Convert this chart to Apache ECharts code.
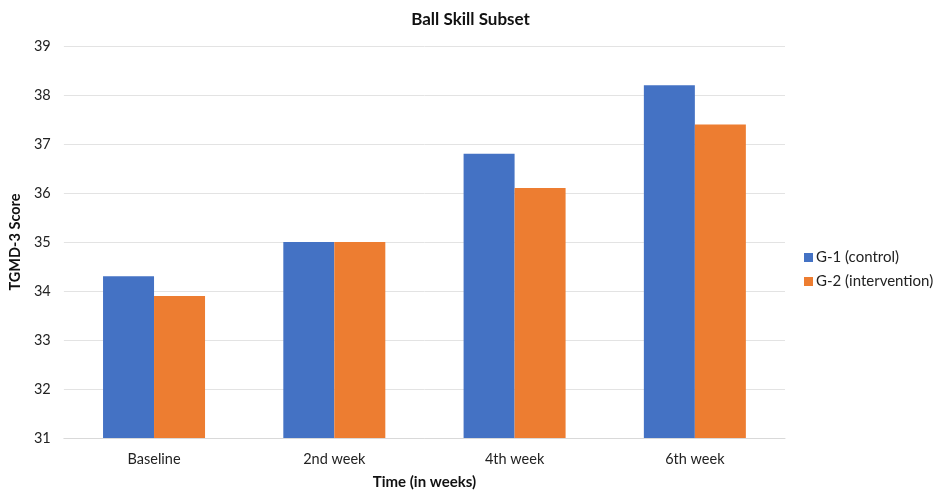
<!DOCTYPE html>
<html>
<head>
<meta charset="utf-8">
<script src="https://cdn.jsdelivr.net/npm/echarts@6/dist/echarts.min.js"></script>
<style>
  html, body { margin: 0; padding: 0; background: #fff; }
  #chart { width: 941px; height: 495px; }
</style>
</head>
<body>
<div id="chart"></div>
<script>
// Ball skill scores over the intervention period
const categories = ['Baseline', '2nd week', '4th week', '6th week'];
const controlScores = [34.3, 35.0, 36.8, 38.2];
const interventionScores = [33.9, 35.0, 36.1, 37.4];
const seriesNames = ['G-1 (control)', 'G-2 (intervention)'];

const font = 'Lato, "Open Sans", sans-serif';
const chart = echarts.init(document.getElementById('chart'));

chart.setOption({
  animation: false,
  backgroundColor: '#ffffff',
  title: {
    text: 'Ball Skill Subset',
    left: 'center',
    top: 6,
    textStyle: { fontFamily: font, fontSize: 17, fontWeight: 'bold', color: '#111' }
  },
  legend: {
    orient: 'vertical',
    left: 799,
    top: 245,
    itemWidth: 9,
    itemHeight: 9,
    itemGap: 9,
    icon: 'rect',
    textStyle: { fontFamily: font, fontSize: 15, color: '#222', padding: [0, 0, 0, -2] },
    data: seriesNames
  },
  grid: { left: 62, right: 156, top: 46, bottom: 55 },
  xAxis: {
    type: 'category',
    data: categories,
    name: 'Time (in weeks)',
    nameLocation: 'middle',
    nameGap: 37,
    nameTextStyle: { fontFamily: font, fontSize: 15, fontWeight: 'bold', color: '#111' },
    axisLine: { lineStyle: { color: '#d9d9d9' } },
    axisTick: { show: false },
    axisLabel: { fontFamily: font, fontSize: 14.5, color: '#222', margin: 14 }
  },
  yAxis: {
    type: 'value',
    min: 31,
    max: 39,
    interval: 1,
    name: 'TGMD-3 Score',
    nameLocation: 'middle',
    nameGap: 40,
    nameTextStyle: { fontFamily: font, fontSize: 14.5, fontWeight: 'bold', color: '#111' },
    axisLine: { show: false },
    axisTick: { show: false },
    splitLine: { lineStyle: { color: '#e3e3e3' } },
    axisLabel: { fontFamily: font, fontSize: 14.5, color: '#222', margin: 30, align: 'left' }
  },
  series: [
    {
      name: seriesNames[0],
      type: 'bar',
      data: controlScores,
      barWidth: 51,
      barGap: '0%',
      itemStyle: { color: '#4472C4' }
    },
    {
      name: seriesNames[1],
      type: 'bar',
      data: interventionScores,
      barWidth: 51,
      barGap: '0%',
      itemStyle: { color: '#ED7D31' }
    }
  ]
});
</script>
</body>
</html>
